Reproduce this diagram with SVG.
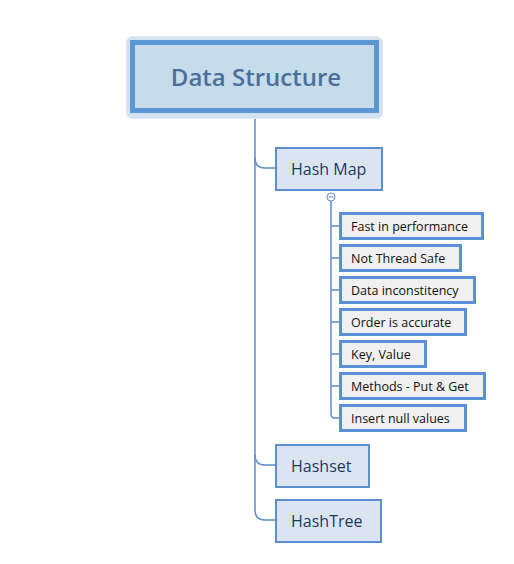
<svg xmlns="http://www.w3.org/2000/svg" width="514" height="564" viewBox="0 0 514 564">
<style>
.conn{fill:none;stroke:#5b8fd0;stroke-width:1.5}
.l1 rect{fill:#dbe5f1;stroke:#5b8fd0;stroke-width:2}
.l1 text{font-family:"Open Sans","Noto Sans",sans-serif;font-size:16px;fill:#1f3864}
.l2 rect{fill:#f0f0f0;stroke:#5b8fd7;stroke-width:3}
.l2 text{font-family:"Open Sans","Noto Sans",sans-serif;font-size:12.5px;fill:#111111}
</style>
<rect width="514" height="564" fill="#ffffff"/>
<g id="connectors">
<path class="conn" d="M255,113 V510 Q255,520 265,520 H276"/>
<path class="conn" d="M255,158 Q255,168 265,168 H276"/>
<path class="conn" d="M255,455 Q255,465 265,465 H276"/>
<path class="conn" d="M331,201 V414 Q331,418 335,418 H340"/>
<path class="conn" d="M331,226 H340 M331,258 H340 M331,290 H340 M331,322 H340 M331,354 H340 M331,386 H340"/>
<circle cx="331" cy="197" r="4" fill="#ffffff" stroke="#5b8fd0" stroke-width="1"/>
<line x1="328.5" y1="197" x2="333.5" y2="197" stroke="#5b8fd0" stroke-width="1"/>
</g>
<g id="root">
<rect x="126.5" y="36.5" width="256" height="82" rx="6" fill="#d3e2ef" stroke="#dbe7f2" stroke-width="1"/>
<rect x="132.5" y="42.5" width="244" height="68" fill="#c6dcea" stroke="#5b97d3" stroke-width="5"/>
<text x="256" y="86" text-anchor="middle" font-family="Open Sans,Noto Sans,sans-serif" font-size="24" font-weight="600" fill="#4a6f9a">Data Structure</text>
</g>
<g id="hashmap" class="l1">
<rect x="276" y="148" width="106" height="42"/>
<text x="291" y="175">Hash Map</text>
</g>
<g id="hashset" class="l1">
<rect x="276" y="445" width="93" height="42"/>
<text x="291" y="472">Hashset</text>
</g>
<g id="hashtree" class="l1">
<rect x="276" y="500" width="105" height="42"/>
<text x="291" y="527">HashTree</text>
</g>
<g id="c1" class="l2"><rect x="340.5" y="213.5" width="142" height="25"/><text x="351" y="231">Fast in performance</text></g>
<g id="c2" class="l2"><rect x="340.5" y="245.5" width="120" height="25"/><text x="351" y="263">Not Thread Safe</text></g>
<g id="c3" class="l2"><rect x="340.5" y="277.5" width="134" height="25"/><text x="351" y="295">Data inconstitency</text></g>
<g id="c4" class="l2"><rect x="340.5" y="309.5" width="125" height="25"/><text x="351" y="327">Order is accurate</text></g>
<g id="c5" class="l2"><rect x="340.5" y="341.5" width="85" height="25"/><text x="351" y="359">Key, Value</text></g>
<g id="c6" class="l2"><rect x="340.5" y="373.5" width="144" height="25"/><text x="351" y="391">Methods - Put &amp; Get</text></g>
<g id="c7" class="l2"><rect x="340.5" y="405.5" width="125" height="25"/><text x="351" y="423">Insert null values</text></g>
</svg>
